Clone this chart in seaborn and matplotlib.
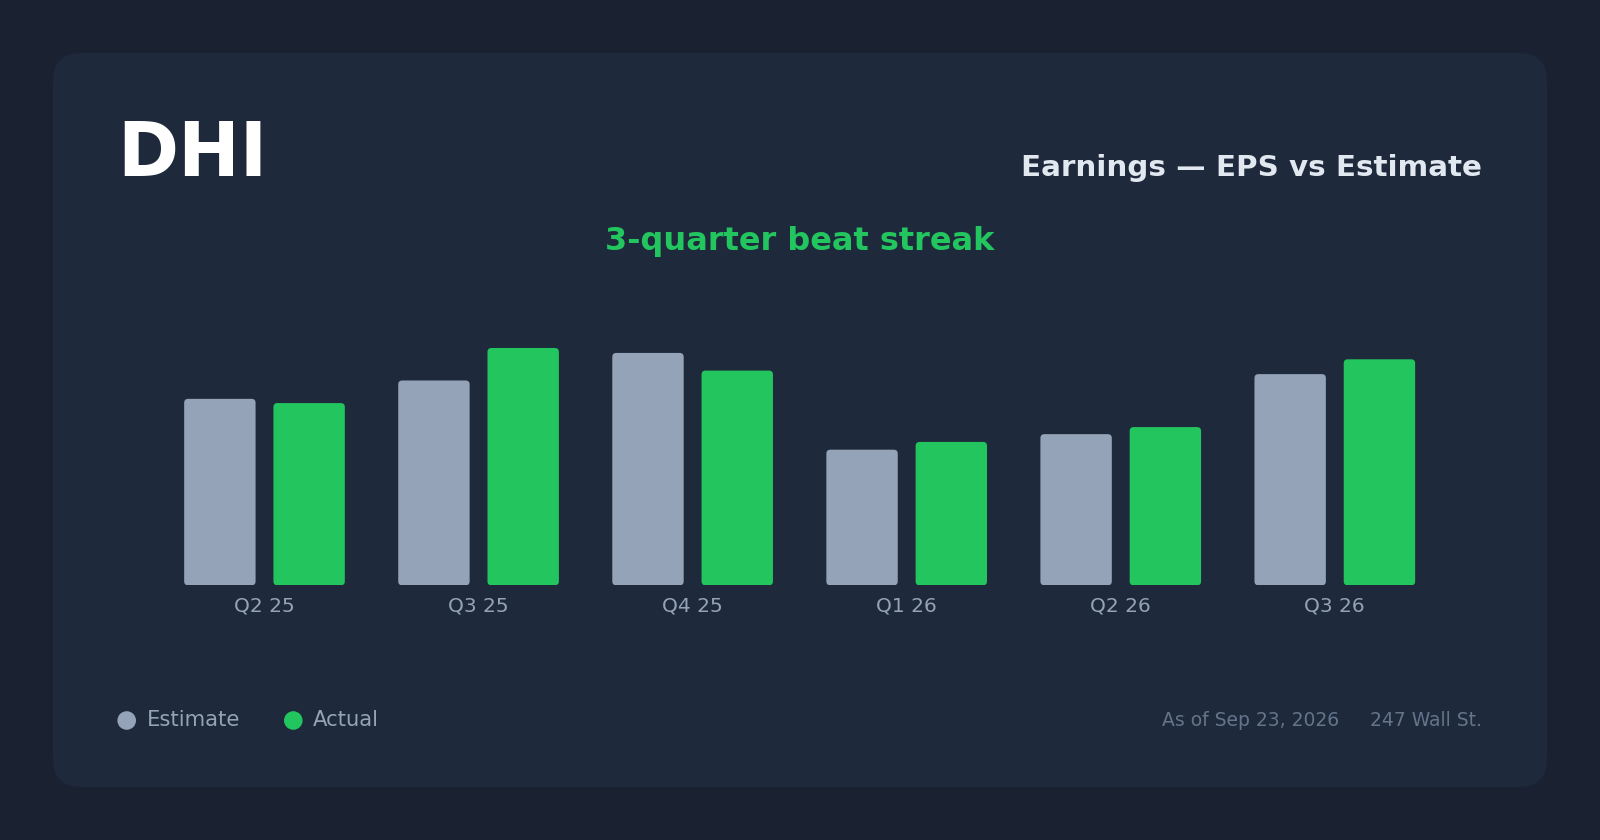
import numpy as np
import pandas as pd
import matplotlib
matplotlib.use("Agg")
import matplotlib.pyplot as plt
from matplotlib.patches import FancyBboxPatch, Circle
import seaborn as sns

# data
quarters = ["Q2 25", "Q3 25", "Q4 25", "Q1 26", "Q2 26", "Q3 26"]
estimate = [2.64, 2.90, 3.29, 1.92, 2.14, 2.99]
actual = [2.58, 3.36, 3.04, 2.03, 2.24, 3.20]
series = ["Estimate", "Actual"]
colors = ["#94a3b8", "#22c55e"]

ticker = "DHI"
title = "Earnings \u2014 EPS vs Estimate"
subtitle = "3-quarter beat streak"
asof = "As of Sep 23, 2026"
source = "247 Wall St."

BG = "#1a2130"
CARD = "#1e293b"
W, H = 1600, 840

df = pd.DataFrame({
    "quarter": quarters * 2,
    "series": [series[0]] * len(quarters) + [series[1]] * len(quarters),
    "eps": estimate + actual,
})

sns.set_theme(style="white")
plt.rcParams["font.family"] = ["DejaVu Sans"]

fig = plt.figure(figsize=(W / 100, H / 100), dpi=100)
fig.patch.set_facecolor(BG)

# background axes in pixel units (y down)
bg = fig.add_axes([0, 0, 1, 1])
bg.set_xlim(0, W)
bg.set_ylim(H, 0)
bg.axis("off")
bg.add_patch(FancyBboxPatch((53, 53), W - 106, H - 106,
                            boxstyle="round,pad=0,rounding_size=28",
                            facecolor=CARD, edgecolor="none"))

bg.text(117, 176, ticker, color="white", fontsize=53, fontweight="bold", va="baseline", ha="left")
bg.text(1482, 176, title, color="#e2e8f0", fontsize=21.2, fontweight="bold", va="baseline", ha="right")
bg.text(800, 250, subtitle, color="#22c55e", fontsize=23, fontweight="bold", va="baseline", ha="center")

# legend
lx = [126.7, 293.3]
for i, name in enumerate(series):
    bg.add_patch(Circle((lx[i], 720.5), 9.3, facecolor=colors[i], edgecolor="none"))
    bg.text(lx[i] + 20, 726.5, name, color="#94a3b8", fontsize=15.2, va="baseline", ha="left")

bg.text(1482, 726.5, source, color="#64748b", fontsize=13.5, va="baseline", ha="right")
bg.text(1339, 726.5, asof, color="#64748b", fontsize=13.5, va="baseline", ha="right")

# chart axes
px_per_cat = 214.06
px_per_unit = 70.63
ymax = 4.0
left = 264.5 - px_per_cat / 2
bottom = 585.3
ax_w = px_per_cat * len(quarters)
ax_h = px_per_unit * ymax
ax = fig.add_axes([left / W, (H - bottom) / H, ax_w / W, ax_h / H])
ax.set_facecolor("none")

sns.barplot(data=df, x="quarter", y="eps", hue="series", hue_order=series,
            palette=colors, width=0.834, gap=0.2, legend=False,
            edgecolor="none", linewidth=0, saturation=1, ax=ax)

ax.set_xlim(-0.5, len(quarters) - 0.5)
ax.set_ylim(0, ymax)

# round the bar corners
r = 4 / px_per_cat
aspect = px_per_cat / px_per_unit
for p in list(ax.patches):
    x, y = p.get_x(), p.get_y()
    w, h = p.get_width(), p.get_height()
    fc = p.get_facecolor()
    p.remove()
    ax.add_patch(FancyBboxPatch((x, y), w, h,
                                boxstyle="round,pad=0,rounding_size=%f" % r,
                                mutation_aspect=aspect,
                                facecolor=fc, edgecolor="none"))

sns.despine(ax=ax, left=True, bottom=True)
ax.set_yticks([])
ax.set_xlabel("")
ax.set_ylabel("")
ax.tick_params(axis="x", length=0, pad=8, labelsize=14.5, colors="#94a3b8")

fig.savefig("out.png", dpi=100, facecolor=BG)
